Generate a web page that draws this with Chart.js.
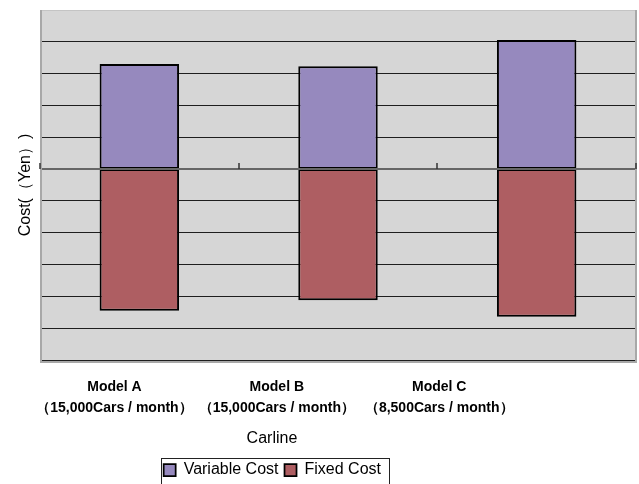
<!DOCTYPE html>
<html><head><meta charset="utf-8">
<script src="https://cdn.jsdelivr.net/npm/chart.js@4/dist/chart.umd.min.js"></script>
<style>html,body{margin:0;padding:0;background:#fff;overflow:hidden}</style>
</head><body>
<canvas id="c" width="639" height="488"></canvas>
<script>
// ---- data ----
const categories = ['Model A', 'Model B', 'Model C'];
const volumeLabels = ['（15,000Cars / month）', '（15,000Cars / month）', '（8,500Cars / month）'];
const seriesNames = ['Variable Cost', 'Fixed Cost'];
const variableCost = [3.30, 3.23, 4.06];
const fixedCost = [-4.45, -4.12, -4.64];
const xTitle = 'Carline';
const yTitle = 'Cost(（Yen）)';
const yMin = -6, yMax = 5, yStep = 1;

// ---- plugins ----
const plotFrame = {
  id: 'plotFrame',
  beforeDraw(chart) {
    const {ctx, chartArea: a} = chart;
    ctx.save();
    ctx.fillStyle = '#d6d6d6';
    ctx.fillRect(a.left, a.top, a.right - a.left, a.bottom - a.top);
    ctx.restore();
  },
  beforeDatasetsDraw(chart) {
    const {ctx, chartArea: a} = chart;
    ctx.save();
    ctx.strokeStyle = '#c4c4c4';
    ctx.lineWidth = 1;
    ctx.beginPath(); ctx.moveTo(a.left, a.top + 0.5); ctx.lineTo(a.right, a.top + 0.5); ctx.stroke();
    ctx.strokeStyle = '#a8a8a8';
    ctx.lineWidth = 2;
    ctx.beginPath();
    ctx.moveTo(a.left + 1, a.top); ctx.lineTo(a.left + 1, a.bottom + 2);
    ctx.lineTo(a.right, a.bottom + 2); ctx.lineTo(a.right, a.top);
    ctx.stroke();
    // category boundary tick marks on the zero line
    const xs = chart.scales.x, ys = chart.scales.y;
    const y0 = Math.round(ys.getPixelForValue(0));
    ctx.strokeStyle = '#333';
    ctx.lineWidth = 1.5;
    for (let i = 0; i <= categories.length; i++) {
      const px = Math.round(xs.getPixelForValue(i - 0.5));
      ctx.beginPath(); ctx.moveTo(px, y0); ctx.lineTo(px, y0 - 6); ctx.stroke();
    }
    ctx.restore();
  }
};
const legendPlace = {
  id: 'legendPlace',
  afterLayout(chart) {
    const lg = chart.legend, xl = chart.scales.xl;
    if (!lg || !xl) return;
    const cx = xl.getPixelForValue(1) - 4.5;
    lg.left = 0; lg.right = 2 * cx; lg.width = 2 * cx;
  },
  afterDraw(chart) {
    const hb = chart.legend && chart.legend.legendHitBoxes;
    if (!hb || !hb.length) return;
    const {ctx} = chart;
    const l = Math.min(...hb.map(h => h.left)) - 3;
    const r = Math.max(...hb.map(h => h.left + h.width)) + 8;
    const t = hb[0].top - 4;
    ctx.save();
    ctx.strokeStyle = '#222';
    ctx.lineWidth = 1;
    ctx.strokeRect(Math.round(l) + 0.5, Math.round(t) + 0.5, Math.round(r - l), 40);
    ctx.restore();
  }
};

const labelAxisBase = {
  type: 'linear', axis: 'x', position: 'bottom', offset: false,
  min: -0.4585, max: 3.212,
  grid: { display: false, drawTicks: false },
  border: { display: false }
};

new Chart(document.getElementById('c'), {
  type: 'bar',
  data: {
    labels: categories,
    datasets: [
      { label: seriesNames[0], data: variableCost, xAxisID: 'x', yAxisID: 'y',
        backgroundColor: '#9689be', borderColor: '#000',
        borderWidth: { top: 2, left: 2, right: 2, bottom: 1 }, borderSkipped: false },
      { label: seriesNames[1], data: fixedCost, xAxisID: 'x', yAxisID: 'y',
        backgroundColor: '#ae5e62', borderColor: '#000',
        borderWidth: { top: 1, left: 2, right: 2, bottom: 2 }, borderSkipped: false }
    ]
  },
  options: {
    responsive: false,
    animation: false,
    layout: { padding: { top: 10, right: 3, left: 0, bottom: 0 } },
    datasets: { bar: { barPercentage: 0.4, categoryPercentage: 1 } },
    scales: {
      x: { type: 'category', stacked: true, display: false },
      y: {
        type: 'linear', stacked: true, min: yMin, max: yMax,
        ticks: { display: false, stepSize: yStep },
        grid: {
          drawTicks: false,
          color: c => c.tick && c.tick.value === 0 ? '#666' : '#1e1e1e',
          lineWidth: c => c.tick && c.tick.value === 0 ? 2 : 1
        },
        border: { display: false },
        title: { display: true, text: yTitle, color: '#000',
          font: { family: 'Liberation Sans, Arial, sans-serif', size: 16 },
          padding: { top: 16, bottom: 0 } },
        afterFit: s => { s.width = 40; }
      },
      xl: Object.assign({}, labelAxisBase, {
        weight: 1,
        afterBuildTicks: s => { s.ticks = categories.map((_, i) => ({ value: i })); },
        ticks: {
          autoSkip: false, maxRotation: 0, minRotation: 0, padding: 17, color: '#000',
          font: { family: 'Liberation Sans, Arial, sans-serif', size: 14, weight: 'bold', lineHeight: 1.5 },
          callback: v => [categories[v], volumeLabels[v]]
        },
        afterFit: s => { s.height = 65; }
      }),
      xt: Object.assign({}, labelAxisBase, {
        weight: 2,
        afterBuildTicks: s => { s.ticks = [{ value: 0.97 }]; },
        ticks: {
          autoSkip: false, maxRotation: 0, minRotation: 0, padding: 4, color: '#000',
          font: { family: 'Liberation Sans, Arial, sans-serif', size: 16 },
          callback: () => xTitle
        },
        afterFit: s => { s.height = 31; }
      })
    },
    plugins: {
      legend: {
        position: 'bottom',
        labels: { boxWidth: 12, boxHeight: 12, padding: 6, color: '#000',
          font: { family: 'Liberation Sans, Arial, sans-serif', size: 16 } }
      },
      tooltip: { enabled: false }
    }
  },
  plugins: [plotFrame, legendPlace]
});
</script>
</body></html>
